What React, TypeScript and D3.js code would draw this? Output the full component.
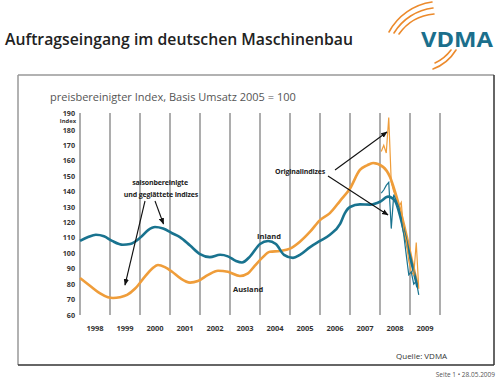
import React from "react";
import * as d3 from "d3";

const title = "Auftragseingang im deutschen Maschinenbau";
const subtitle = "preisbereinigter Index, Basis Umsatz 2005 = 100";
const yTicks = [60, 70, 80, 90, 100, 110, 120, 130, 140, 150, 160, 170, 180, 190];
const yearLabels = [1998, 1999, 2000, 2001, 2002, 2003, 2004, 2005, 2006, 2007, 2008, 2009];
const gridYears = [1998, 1999, 2000, 2001, 2002, 2003, 2004, 2005, 2006, 2007, 2008, 2009, 2010];

// smoothed, seasonally adjusted indices (fractional year, value)
const inlandYears = [1998.0, 1998.27, 1998.53, 1998.8, 1999.07, 1999.43, 1999.67, 2000.0, 2000.27, 2000.5, 2000.77, 2001.07, 2001.33, 2001.67, 2002.0, 2002.33, 2002.67, 2002.93, 2003.2, 2003.4, 2003.67, 2004.0, 2004.27, 2004.53, 2004.8, 2005.1, 2005.33, 2005.67, 2006.0, 2006.33, 2006.67, 2006.83, 2007.0, 2007.33, 2007.67, 2008.0, 2008.27, 2008.5, 2008.7, 2008.9, 2009.1, 2009.25];
const inlandValues = [108, 110.5, 112, 111, 108, 105.5, 106, 110, 115, 117, 116, 113, 110.5, 105, 99.5, 97.5, 99, 98, 95, 94, 98, 106, 108, 106, 99, 97, 99, 104, 108, 112, 119, 126, 130, 131.7, 131.5, 133.4, 136.7, 134, 122, 106, 90, 78];

const auslandYears = [1998.0, 1998.33, 1998.67, 1998.93, 1999.1, 1999.33, 1999.57, 1999.83, 2000.17, 2000.4, 2000.6, 2000.83, 2001.07, 2001.33, 2001.67, 2001.93, 2002.27, 2002.6, 2002.93, 2003.33, 2003.6, 2003.83, 2004.07, 2004.33, 2004.67, 2005.0, 2005.33, 2005.67, 2006.0, 2006.33, 2006.67, 2007.0, 2007.33, 2007.57, 2007.77, 2008.1, 2008.33, 2008.5, 2008.7, 2008.9, 2009.1, 2009.25];
const auslandValues = [84, 79, 74, 71.5, 71, 71.5, 73, 77, 85, 90, 92.4, 91, 88, 84, 81, 82, 86, 88.7, 88, 85.3, 87, 92, 97, 101, 101.5, 103, 107.5, 114, 121.5, 126, 134, 142, 154, 157, 158.5, 156, 149.6, 140, 126, 110, 92, 80];

// original (monthly) indices, Jan 2008 .. Apr 2009
const originalStartYear = 2008;
const inlandOriginal = [139, 141, 144, 146, 116, 138, 134, 130, 121, 112, 99, 86, 88, 80, 82, 73];
const auslandOriginal = [166, 170, 165, 188, 146, 140, 136, 130, 133, 114, 108, 95, 88, 86, 107, 77];

const TEAL = "#19738f";
const ORANGE = "#ef9d3a";

export default function App() {
  const x = d3.scaleLinear().domain([1998, 2010]).range([80, 440]);
  const y = d3.scaleLinear().domain([60, 190]).range([315, 114.4]);

  const smooth = d3
    .line<[number, number]>()
    .x((d) => x(d[0]))
    .y((d) => y(d[1]))
    .curve(d3.curveMonotoneX);
  const raw = d3
    .line<[number, number]>()
    .x((d) => x(d[0]))
    .y((d) => y(d[1]));

  const inl = inlandYears.map((t, i) => [t, inlandValues[i]] as [number, number]);
  const aus = auslandYears.map((t, i) => [t, auslandValues[i]] as [number, number]);
  const inlO = inlandOriginal.map((v, i) => [originalStartYear + (i + 0.5) / 12, v] as [number, number]);
  const ausO = auslandOriginal.map((v, i) => [originalStartYear + (i + 0.5) / 12, v] as [number, number]);

  const labelFont = "'Open Sans', 'DejaVu Sans', sans-serif";

  return (
    <svg
      width={500}
      height={381}
      style={{ position: "absolute", left: 0, top: 0, background: "#fff" }}
      fontFamily={labelFont}
    >
      <defs>
        <marker id="arr" viewBox="0 0 10 10" refX="9" refY="5" markerWidth="6" markerHeight="6" orient="auto">
          <path d="M0,1 L10,5 L0,9 z" fill="#111" />
        </marker>
      </defs>
      <rect x={0} y={0} width={500} height={381} fill="#fff" />

      {/* header */}
      <text x={5} y={45} fontSize={16.5} fontWeight={600} fill="#222" textLength={348} lengthAdjust="spacingAndGlyphs">
        {title}
      </text>
      {/* logo arcs */}
      <g fill="none" stroke="#ec8a2c" strokeLinecap="round">
        <path d="M389,32 A58,58 0 0 1 432,2" strokeWidth={1.6} />
        <path d="M394,33 A53,53 0 0 1 433,8" strokeWidth={1.6} />
        <path d="M399,34 A48,48 0 0 1 434,14" strokeWidth={1.6} />
        <path d="M433,69 A46,46 0 0 0 456,50" strokeWidth={1.6} />
        <path d="M435,63 A42,42 0 0 0 451,50" strokeWidth={1.6} />
      </g>
      <text x={421} y={47} fontSize={22} fontWeight={700} fill="#1b6f8c" textLength={72} lengthAdjust="spacingAndGlyphs">
        VDMA
      </text>

      {/* frame */}
      <line x1={18} y1={75} x2={494} y2={75} stroke="#999" strokeWidth={1.5} />
      <line x1={18} y1={75} x2={18} y2={365} stroke="#999" strokeWidth={1.5} />
      <line x1={494} y1={75} x2={494} y2={365} stroke="#333" strokeWidth={1.5} />
      <line x1={18} y1={365} x2={494} y2={365} stroke="#333" strokeWidth={1.5} />

      <text x={50} y={101} fontSize={11} fill="#555">
        {subtitle}
      </text>

      {/* vertical grid lines */}
      {gridYears.map((yr) => (
        <line key={yr} x1={x(yr)} x2={x(yr)} y1={113} y2={y(60)} stroke="#8a8a8a" strokeWidth={1.4} />
      ))}

      {/* y tick labels */}
      {yTicks.map((v) => (
        <text key={v} x={75} y={v === 190 ? y(v) - 1 : v === 180 ? y(v) + 0.8 : y(v)} dy="0.35em" textAnchor="end" fontSize={7.2} fontWeight={700} fill="#333">
          {v}
        </text>
      ))}
      <text x={76} y={121.6} dy="0.3em" textAnchor="end" fontSize={5.8} fontWeight={700} fill="#333">
        Index
      </text>

      {/* year labels */}
      {yearLabels.map((yr) => (
        <text key={yr} x={x(yr + 0.5)} y={328} dy="0.35em" textAnchor="middle" fontSize={7.5} fontWeight={700} fill="#333">
          {yr}
        </text>
      ))}

      {/* series */}
      <path d={smooth(aus) || ""} fill="none" stroke={ORANGE} strokeWidth={2.6} />
      <path d={smooth(inl) || ""} fill="none" stroke={TEAL} strokeWidth={2.6} />
      <path d={raw(ausO) || ""} fill="none" stroke={ORANGE} strokeWidth={1.2} />
      <path d={raw(inlO) || ""} fill="none" stroke={TEAL} strokeWidth={1.2} />

      {/* annotations */}
      <text x={160} y={183} dy="0.35em" textAnchor="middle" fontSize={7} fontWeight={700} fill="#222" letterSpacing={-0.15}>
        saisonbereinigte
      </text>
      <text x={161} y={195} dy="0.35em" textAnchor="middle" fontSize={7} fontWeight={700} fill="#222" letterSpacing={-0.15}>
        und geglättete Indizes
      </text>
      <line x1={145} y1={201} x2={125} y2={285} stroke="#111" strokeWidth={1.1} markerEnd="url(#arr)" />
      <line x1={155} y1={201} x2={163.5} y2={224} stroke="#111" strokeWidth={1.1} markerEnd="url(#arr)" />

      <text x={300} y={172} dy="0.35em" textAnchor="middle" fontSize={7} fontWeight={700} fill="#222" letterSpacing={-0.15}>
        Originalindizes
      </text>
      <line x1={335} y1={170} x2={387} y2={132} stroke="#111" strokeWidth={1.1} markerEnd="url(#arr)" />
      <line x1={328} y1={176} x2={388} y2={215} stroke="#111" strokeWidth={1.1} markerEnd="url(#arr)" />

      <text x={257} y={236} dy="0.35em" fontSize={7.5} fontWeight={700} fill="#222">
        Inland
      </text>
      <text x={233} y={289} dy="0.35em" fontSize={7.5} fontWeight={700} fill="#222">
        Ausland
      </text>

      <text x={396} y={359} fontSize={8} fill="#333">
        Quelle: VDMA
      </text>
      <text x={495} y={377} textAnchor="end" fontSize={6.5} fill="#555">
        Seite 1 • 28.05.2009
      </text>
    </svg>
  );
}
